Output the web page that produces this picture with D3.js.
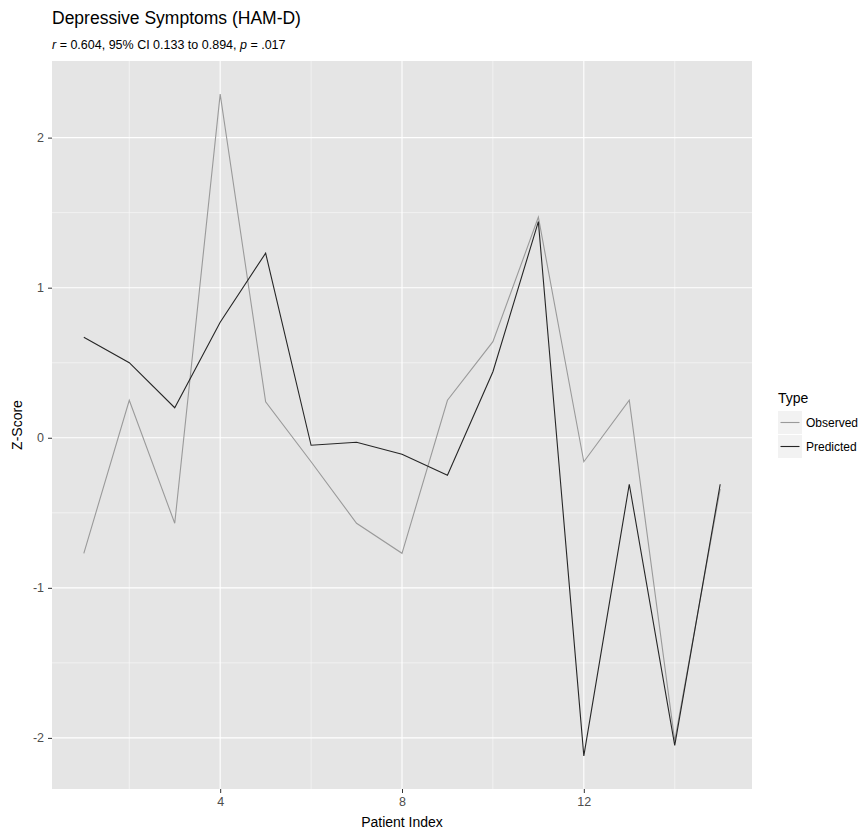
<!DOCTYPE html>
<html>
<head>
<meta charset="utf-8">
<script src="https://cdn.jsdelivr.net/npm/d3@7"></script>
<style>
  html, body { margin: 0; padding: 0; background: #ffffff; }
  svg { display: block; font-family: "Liberation Sans", Arial, sans-serif; }
</style>
</head>
<body>
<svg id="chart" width="865" height="833"></svg>
<script>
const patientIndex = [1, 2, 3, 4, 5, 6, 7, 8, 9, 10, 11, 12, 13, 14, 15];
const observed  = [-0.77, 0.25, -0.57, 2.29, 0.24, -0.16, -0.57, -0.77, 0.25, 0.64, 1.47, -0.16, 0.25, -2.02, -0.34];
const predicted = [0.67, 0.50, 0.20, 0.77, 1.23, -0.05, -0.03, -0.11, -0.25, 0.44, 1.44, -2.12, -0.31, -2.05, -0.31];
const seriesNames = ["Observed", "Predicted"];
const seriesColors = ["#9a9a9a", "#262626"];
const xTicks = [4, 8, 12];
const xMinor = [2, 6, 10, 14];
const yTicks = [-2, -1, 0, 1, 2];
const yMinor = [-1.5, -0.5, 0.5, 1.5];
const titleText = "Depressive Symptoms (HAM-D)";
const xLabel = "Patient Index";
const yLabel = "Z-Score";
const legendTitle = "Type";

const svg = d3.select("#chart");
const panel = { left: 52, right: 752, top: 61, bottom: 789 };

function expand(ext) {
  const r = ext[1] - ext[0];
  return [ext[0] - 0.05 * r, ext[1] + 0.05 * r];
}
const x = d3.scaleLinear().domain(expand(d3.extent(patientIndex))).range([panel.left, panel.right]);
const allY = observed.concat(predicted);
const y = d3.scaleLinear().domain(expand(d3.extent(allY))).range([panel.bottom, panel.top]);

// panel background
svg.append("rect")
  .attr("x", panel.left).attr("y", panel.top)
  .attr("width", panel.right - panel.left).attr("height", panel.bottom - panel.top)
  .attr("fill", "#e5e5e5");

const grid = svg.append("g");
// minor grid
grid.selectAll(".ym").data(yMinor).enter().append("line")
  .attr("x1", panel.left).attr("x2", panel.right)
  .attr("y1", d => y(d)).attr("y2", d => y(d))
  .attr("stroke", "#f7f7f7").attr("stroke-width", 0.7);
grid.selectAll(".xm").data(xMinor).enter().append("line")
  .attr("y1", panel.top).attr("y2", panel.bottom)
  .attr("x1", d => x(d)).attr("x2", d => x(d))
  .attr("stroke", "#f7f7f7").attr("stroke-width", 0.7);
// major grid
grid.selectAll(".yM").data(yTicks).enter().append("line")
  .attr("x1", panel.left).attr("x2", panel.right)
  .attr("y1", d => y(d)).attr("y2", d => y(d))
  .attr("stroke", "#ffffff").attr("stroke-width", 1.1);
grid.selectAll(".xM").data(xTicks).enter().append("line")
  .attr("y1", panel.top).attr("y2", panel.bottom)
  .attr("x1", d => x(d)).attr("x2", d => x(d))
  .attr("stroke", "#ffffff").attr("stroke-width", 1.1);

// axes
const xAxis = d3.axisBottom(x).tickValues(xTicks).tickSize(4).tickPadding(4).tickFormat(d3.format("d"));
const yAxis = d3.axisLeft(y).tickValues(yTicks).tickSize(4).tickPadding(4).tickFormat(d => d < 0 ? "-" + Math.abs(d) : String(d));

const gx = svg.append("g").attr("transform", `translate(0,${panel.bottom})`).call(xAxis);
const gy = svg.append("g").attr("transform", `translate(${panel.left},0)`).call(yAxis);
[gx, gy].forEach(g => {
  g.select(".domain").remove();
  g.selectAll(".tick line").attr("stroke", "#333333").attr("stroke-width", 1);
  g.selectAll(".tick text").attr("fill", "#4d4d4d").style("font-size", "12.5px")
    .style("font-family", "'Liberation Sans', Arial, sans-serif");
});

// lines
const series = [observed, predicted];
const line = d3.line().x((d, i) => x(patientIndex[i])).y(d => y(d));
series.forEach((s, k) => {
  svg.append("path")
    .datum(s)
    .attr("d", line)
    .attr("fill", "none")
    .attr("stroke", seriesColors[k])
    .attr("stroke-width", 1.1)
    .attr("stroke-linejoin", "miter");
});

// titles
svg.append("text").attr("x", panel.left).attr("y", 24)
  .style("font-size", "17.5px").attr("fill", "#000").text(titleText);

const sub = svg.append("text").attr("x", panel.left).attr("y", 49)
  .style("font-size", "12.5px").attr("fill", "#000");
sub.append("tspan").style("font-style", "italic").text("r");
sub.append("tspan").text(" = 0.604, 95% CI 0.133 to 0.894, ");
sub.append("tspan").style("font-style", "italic").text("p");
sub.append("tspan").text(" = .017");

svg.append("text").attr("x", (panel.left + panel.right) / 2).attr("y", 827)
  .attr("text-anchor", "middle").style("font-size", "14px").attr("fill", "#000").text(xLabel);

svg.append("text").attr("transform", `translate(22,${(panel.top + panel.bottom) / 2}) rotate(-90)`)
  .attr("text-anchor", "middle").style("font-size", "14px").attr("fill", "#000").text(yLabel);

// legend
const lg = svg.append("g").attr("transform", "translate(778,0)");
lg.append("text").attr("x", 0).attr("y", 403).style("font-size", "14px").attr("fill", "#000").text(legendTitle);
seriesNames.forEach((name, i) => {
  const ky = 411 + i * 24;
  lg.append("rect").attr("x", 0).attr("y", ky).attr("width", 24).attr("height", 23).attr("fill", "#f2f2f2");
  lg.append("line").attr("x1", 2.5).attr("x2", 21.5).attr("y1", ky + 11.5).attr("y2", ky + 11.5)
    .attr("stroke", seriesColors[i]).attr("stroke-width", 1.1);
  lg.append("text").attr("x", 28).attr("y", ky + 16).style("font-size", "12px").attr("fill", "#000").text(name);
});
</script>
</body>
</html>
